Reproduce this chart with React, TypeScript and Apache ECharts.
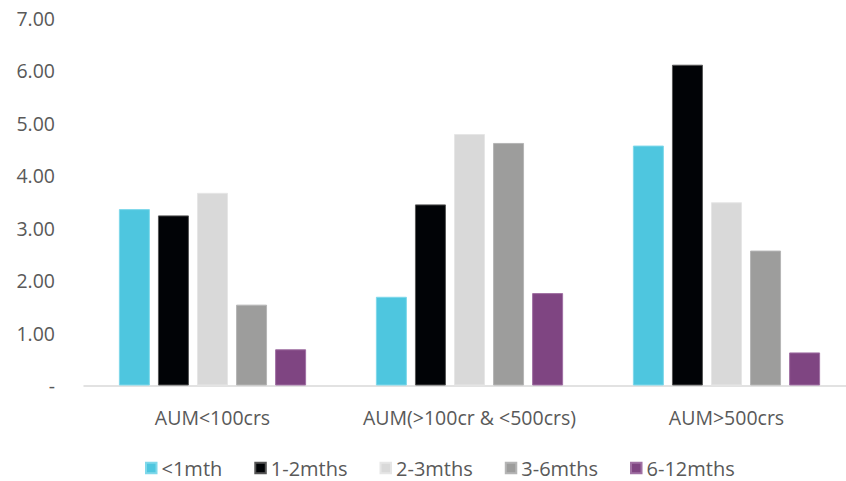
import React, { useEffect, useRef } from "react";
import * as echarts from "echarts";

const categories = ["AUM<100crs", "AUM(>100cr & <500crs)", "AUM>500crs"];
const seriesNames = ["<1mth", "1-2mths", "2-3mths", "3-6mths", "6-12mths"];
const lt1mth = [3.36, 1.69, 4.57];
const m1to2 = [3.24, 3.45, 6.11];
const m2to3 = [3.67, 4.79, 3.49];
const m3to6 = [1.54, 4.62, 2.57];
const m6to12 = [0.69, 1.76, 0.63];
const seriesValues = [lt1mth, m1to2, m2to3, m3to6, m6to12];
const colors = ["#4EC6DF", "#010306", "#D9D9D9", "#9D9D9C", "#7F4582"];
const borders = ["#7FD8EA", "#555555", "#E6E6E6", "#B5B5B5", "#A070A3"];

export default function App() {
  const ref = useRef<HTMLDivElement>(null);
  useEffect(() => {
    if (!ref.current) return;
    const chart = echarts.init(ref.current, null, { renderer: "svg" });
    const font = "Open Sans";
    chart.setOption({
      animation: false,
      backgroundColor: "#ffffff",
      textStyle: { fontFamily: font },
      grid: {
        left: 84,
        top: 18,
        width: 771,
        height: 367.5,
        containLabel: false,
        outerBoundsMode: "none",
      },
      legend: {
        data: seriesNames,
        left: 145,
        top: 458,
        icon: "rect",
        itemWidth: 10.5,
        itemHeight: 10.5,
        itemGap: 32,
        textStyle: { fontFamily: font, fontSize: 20, color: "#595959", lineHeight: 20 },
        padding: 0,
      },
      xAxis: {
        type: "category",
        data: categories,
        axisLine: { show: true, lineStyle: { color: "#D9D9D9", width: 1.5 } },
        axisTick: { show: false },
        axisLabel: {
          color: "#595959",
          fontSize: 19.5,
          fontFamily: font,
          margin: 22,
          interval: 0,
          hideOverlap: false,
        },
      },
      yAxis: {
        type: "value",
        min: 0,
        max: 7,
        interval: 1,
        splitLine: { show: false },
        axisLine: { show: false },
        axisTick: { show: false },
        axisLabel: {
          color: "#595959",
          fontSize: 19.5,
          fontFamily: font,
          margin: 29,
          formatter: (v: number) => (v === 0 ? "-" : v.toFixed(2)),
        },
      },
      series: seriesNames.map((n, i) => ({
        name: n,
        type: "bar",
        data: seriesValues[i],
        barWidth: 31,
        barGap: "26%",
        itemStyle: { color: colors[i], borderColor: borders[i], borderWidth: 1 },
      })),
    });
    return () => chart.dispose();
  }, []);
  return (
    <div
      ref={ref}
      style={{ position: "absolute", left: 0, top: 0, width: 846, height: 481 }}
    />
  );
}
